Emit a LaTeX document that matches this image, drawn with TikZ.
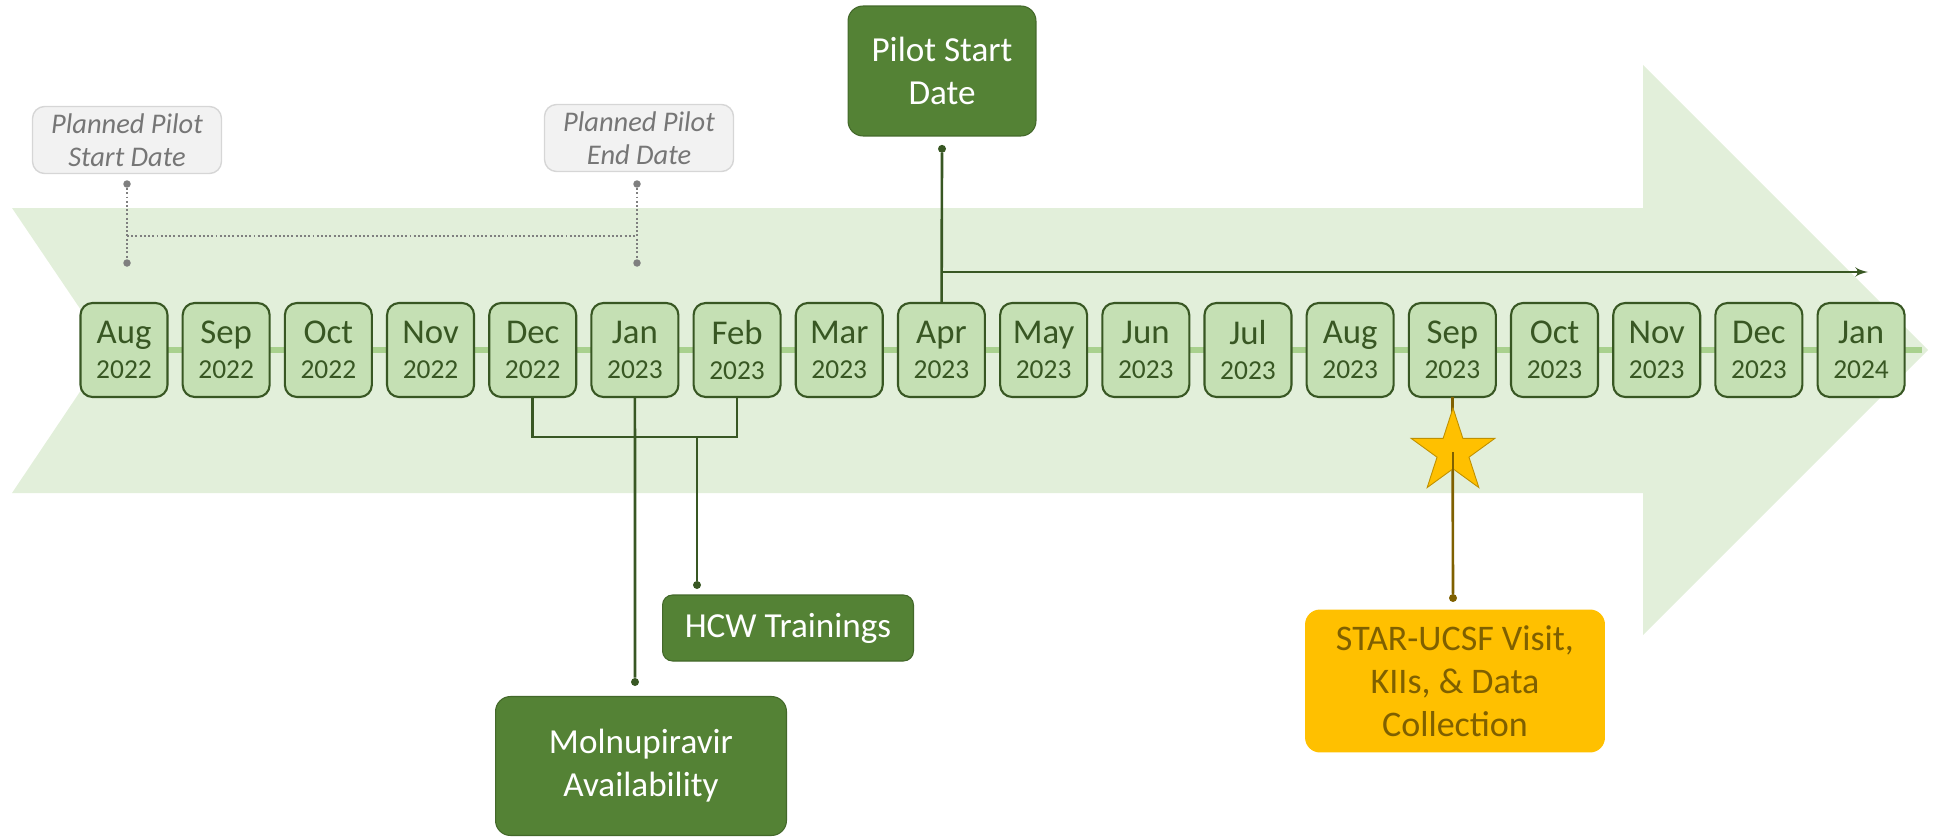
\documentclass[tikz,border=0pt]{standalone}
\usepackage{fontspec}
\setmainfont{Carlito}
\usepackage{tikz}
\usetikzlibrary{arrows,calc,positioning,shapes}

\definecolor{bandgreen}{RGB}{226,239,218}
\definecolor{linegreen}{RGB}{169,209,142}
\definecolor{boxgreen}{RGB}{197,224,180}
\definecolor{darkgreen}{RGB}{56,87,35}
\definecolor{midgreen}{RGB}{84,130,53}
\definecolor{plangray}{RGB}{242,242,242}
\definecolor{planborder}{RGB}{214,214,214}
\definecolor{plantext}{RGB}{118,118,118}
\definecolor{dotgray}{RGB}{127,127,127}
\definecolor{gold}{RGB}{255,192,0}
\definecolor{goldborder}{RGB}{191,144,0}
\definecolor{goldtext}{RGB}{127,96,0}

\newcommand{\monthlabel}[2]{{\fontsize{19.8}{19.9}\selectfont #1}\\#2}

\begin{document}
\begin{tikzpicture}[auto,>=latex',x=0.02cm,y=-0.02cm]
	\tikzstyle{month} = [draw=darkgreen, fill=boxgreen, text=darkgreen, rounded corners=0.24cm, line width=1.2pt, minimum width=1.74cm, minimum height=1.88cm, inner sep=0pt, outer sep=0pt, align=center, font=\fontsize{15.6}{19.9}\selectfont]
	\tikzstyle{callout} = [draw=midgreen!80!black, line width=0.6pt, fill=midgreen, text=white, rounded corners=0.3cm, align=center, font=\fontsize{20}{24.4}\selectfont]
	\tikzstyle{plan} = [draw=planborder, line width=0.8pt, fill=plangray, text=plantext, rounded corners=0.24cm, minimum width=3.78cm, minimum height=1.34cm, align=center, font=\itshape\fontsize{16.2}{18.8}\selectfont]
	\tikzstyle{dot} = [circle, fill=darkgreen, inner sep=0pt, minimum size=0.16cm]
	\tikzstyle{conn} = [draw=darkgreen, line width=1.5pt]
	\tikzstyle{dots} = [draw=dotgray, line width=1.1pt, dash pattern=on 1.1pt off 1.3pt]
	
	\useasboundingbox (0,0) rectangle (1933,838);
	
	% big arrow and time line
	\fill [bandgreen] (12,208) -- (1643,208) -- (1643,65) -- (1928,350) -- (1643,635) -- (1643,493) -- (12,493) -- (108,350) -- cycle;
	\draw [linegreen, line width=0.12cm] (108,350) -- (1922,350);
	
	% months
	\node [month] (m1) at (124,350) {\monthlabel{Aug}{2022}};
	\node [month, right = 0.304cm of m1] (m2) {\monthlabel{Sep}{2022}};
	\node [month, right = 0.304cm of m2] (m3) {\monthlabel{Oct}{2022}};
	\node [month, right = 0.304cm of m3] (m4) {\monthlabel{Nov}{2022}};
	\node [month, right = 0.304cm of m4] (m5) {\monthlabel{Dec}{2022}};
	\node [month, right = 0.304cm of m5] (m6) {\monthlabel{Jan}{2023}};
	\node [month, right = 0.304cm of m6] (m7) {\monthlabel{Feb}{2023}};
	\node [month, right = 0.304cm of m7] (m8) {\monthlabel{Mar}{2023}};
	\node [month, right = 0.304cm of m8] (m9) {\monthlabel{Apr}{2023}};
	\node [month, right = 0.304cm of m9] (m10) {\monthlabel{May}{2023}};
	\node [month, right = 0.304cm of m10] (m11) {\monthlabel{Jun}{2023}};
	\node [month, right = 0.304cm of m11] (m12) {\monthlabel{Jul}{2023}};
	\node [month, right = 0.304cm of m12] (m13) {\monthlabel{Aug}{2023}};
	\node [month, right = 0.304cm of m13] (m14) {\monthlabel{Sep}{2023}};
	\node [month, right = 0.304cm of m14] (m15) {\monthlabel{Oct}{2023}};
	\node [month, right = 0.304cm of m15] (m16) {\monthlabel{Nov}{2023}};
	\node [month, right = 0.304cm of m16] (m17) {\monthlabel{Dec}{2023}};
	\node [month, right = 0.304cm of m17] (m18) {\monthlabel{Jan}{2024}};
	
	% planned pilot window
	\node [plan] (pstart) at (127,140) {Planned Pilot\\Start Date};
	\node [plan] (pend) at (639,138) {Planned Pilot\\End Date};
	\node [dot, fill=dotgray, minimum size=0.15cm] (sd1) at (127,184) {};
	\node [dot, fill=dotgray, minimum size=0.15cm] (sd2) at (127,263) {};
	\node [dot, fill=dotgray, minimum size=0.15cm] (ed1) at (637,184) {};
	\node [dot, fill=dotgray, minimum size=0.15cm] (ed2) at (637,263) {};
	\draw [dots] (sd1) -- (sd2);
	\draw [dots] (ed1) -- (ed2);
	\draw [dots] ($(sd1)!0.66!(sd2)$) -- ($(ed1)!0.66!(ed2)$);
	
	% pilot start
	\node [callout, minimum width=3.76cm, minimum height=2.6cm] (pilot) at (942,71) {Pilot Start\\Date};
	\node [dot, below = 0.16cm of pilot] (pdot) {};
	\node [coordinate] (arrowend) at (1868,272) {};
	\draw [conn] (pdot) -- (m9);
	\draw [conn, ->] (pdot |- arrowend) -- (arrowend);
	
	% trainings and drug availability
	\node [callout, minimum width=5.02cm, minimum height=1.32cm, rounded corners=0.2cm] (hcw) at (788,628) {HCW Trainings};
	\node [callout, minimum width=5.82cm, minimum height=2.78cm] (mol) at (641,766) {Molnupiravir\\Availability};
	\node [coordinate] (bkt) at (640,437) {};
	\node [dot] (hdot) at (697,585) {};
	\node [dot] (mdot) at (635,682) {};
	\draw [conn] (m5) |- (bkt) -| (m7);
	\draw [conn] (hdot) -- (hdot |- bkt);
	\draw [conn] (m6) -- (mdot);
	
	% visit
	\node [fill=gold, text=goldtext, rounded corners=0.3cm, minimum width=6cm, minimum height=2.86cm, align=center, font=\fontsize{20.5}{24.6}\selectfont] (visit) at (1455,681) {STAR-UCSF Visit,\\KIIs, \& Data\\Collection};
	\node [dot, fill=goldtext] (vdot) at (1453,598) {};
	\draw [draw=goldtext, line width=1.5pt] (m14) -- (vdot);
	\node [star, star points=5, star point ratio=2.618, minimum size=1.76cm, inner sep=0pt, fill=gold, draw=goldborder, line width=0.5pt] (star) at (1453,452) {};
	\draw [draw=goldtext, line width=1.5pt] (star.center) -- (vdot);
	
\end{tikzpicture}
\end{document}
